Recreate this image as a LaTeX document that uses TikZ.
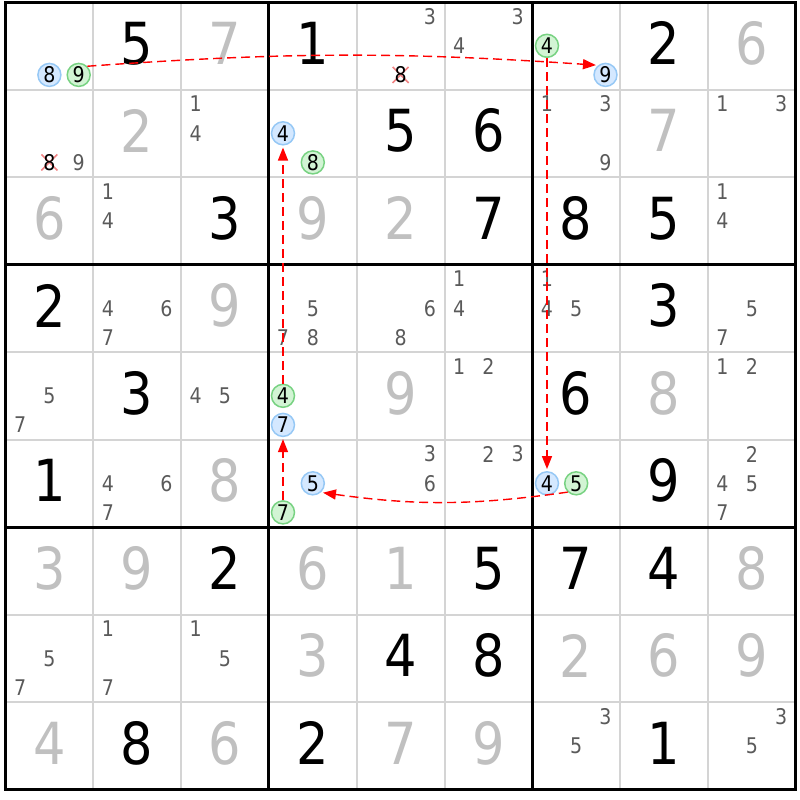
\documentclass[tikz,border=0pt]{standalone}
\usepackage{fontspec}
\setmainfont{DejaVu Sans}[FakeStretch=0.88]
\usepackage{tikz}
\usetikzlibrary{arrows.meta}
\definecolor{solvedgray}{RGB}{192,192,192}
\definecolor{candgray}{RGB}{90,90,90}
\definecolor{thingrid}{RGB}{212,212,212}
\definecolor{bluefill}{RGB}{212,232,255}
\definecolor{bluering}{RGB}{150,200,245}
\definecolor{greenfill}{RGB}{210,244,212}
\definecolor{greenring}{RGB}{120,210,130}
\definecolor{crosspink}{RGB}{240,130,130}

\begin{document}
\begin{tikzpicture}[x=0.5pt,y=0.5pt]
                    \tikzstyle{every node}+=[inner sep=0pt]
                    \tikzstyle{given}=[font=\fontsize{29}{29}\selectfont, text=black]
                    \tikzstyle{solved}=[font=\fontsize{29}{29}\selectfont, text=solvedgray]
                    \tikzstyle{cand}=[font=\fontsize{10.8}{11}\selectfont, text=candgray]
                    \tikzstyle{bluecand}=[cand, text=black, circle, draw=bluering, fill=bluefill, line width=0.75pt, minimum size=11.5pt]
                    \tikzstyle{greencand}=[cand, text=black, circle, draw=greenring, fill=greenfill, line width=0.75pt, minimum size=11.5pt]
                    \tikzstyle{linkarrow}=[red, line width=0.7pt, dash pattern=on 4.5pt off 2.5pt, -{Triangle[length=6.5pt,width=5pt]}, shorten >=1pt]
                    \useasboundingbox (0,0) rectangle (800,-800);
                    % thin lines
                    \draw [thingrid, line width=1pt] (93.3,-2) -- (93.3,-789.5);
                    \draw [thingrid, line width=1pt] (181.1,-2) -- (181.1,-789.5);
                    \draw [thingrid, line width=1pt] (356.7,-2) -- (356.7,-789.5);
                    \draw [thingrid, line width=1pt] (444.5,-2) -- (444.5,-789.5);
                    \draw [thingrid, line width=1pt] (620.1,-2) -- (620.1,-789.5);
                    \draw [thingrid, line width=1pt] (707.9,-2) -- (707.9,-789.5);
                    \draw [thingrid, line width=1pt] (5.5,-89.5) -- (795.7,-89.5);
                    \draw [thingrid, line width=1pt] (5.5,-177) -- (795.7,-177);
                    \draw [thingrid, line width=1pt] (5.5,-352) -- (795.7,-352);
                    \draw [thingrid, line width=1pt] (5.5,-439.5) -- (795.7,-439.5);
                    \draw [thingrid, line width=1pt] (5.5,-614.5) -- (795.7,-614.5);
                    \draw [thingrid, line width=1pt] (5.5,-702) -- (795.7,-702);
                    % box lines
                    \draw [black, line width=1.5pt] (268.9,-2) -- (268.9,-789.5);
                    \draw [black, line width=1.5pt] (532.3,-2) -- (532.3,-789.5);
                    \draw [black, line width=1.5pt] (5.5,-264.5) -- (795.7,-264.5);
                    \draw [black, line width=1.5pt] (5.5,-527) -- (795.7,-527);
                    \draw [black, line width=1.5pt] (5.5,-2) rectangle (795.7,-789.5);
                    % values
                    \node [given] (v12) at (137.2,-43.3) {5};
                    \node [solved] (v13) at (225.0,-43.3) {7};
                    \node [given] (v14) at (312.8,-43.3) {1};
                    \node [given] (v18) at (664.0,-43.3) {2};
                    \node [solved] (v19) at (751.8,-43.3) {6};
                    \node [solved] (v22) at (137.2,-130.8) {2};
                    \node [given] (v25) at (400.6,-130.8) {5};
                    \node [given] (v26) at (488.4,-130.8) {6};
                    \node [solved] (v28) at (664.0,-130.8) {7};
                    \node [solved] (v31) at (49.4,-218.3) {6};
                    \node [given] (v33) at (225.0,-218.3) {3};
                    \node [solved] (v34) at (312.8,-218.3) {9};
                    \node [solved] (v35) at (400.6,-218.3) {2};
                    \node [given] (v36) at (488.4,-218.3) {7};
                    \node [given] (v37) at (576.2,-218.3) {8};
                    \node [given] (v38) at (664.0,-218.3) {5};
                    \node [given] (v41) at (49.4,-305.8) {2};
                    \node [solved] (v43) at (225.0,-305.8) {9};
                    \node [given] (v48) at (664.0,-305.8) {3};
                    \node [given] (v52) at (137.2,-393.3) {3};
                    \node [solved] (v55) at (400.6,-393.3) {9};
                    \node [given] (v57) at (576.2,-393.3) {6};
                    \node [solved] (v58) at (664.0,-393.3) {8};
                    \node [given] (v61) at (49.4,-480.8) {1};
                    \node [solved] (v63) at (225.0,-480.8) {8};
                    \node [given] (v68) at (664.0,-480.8) {9};
                    \node [solved] (v71) at (49.4,-568.3) {3};
                    \node [solved] (v72) at (137.2,-568.3) {9};
                    \node [given] (v73) at (225.0,-568.3) {2};
                    \node [solved] (v74) at (312.8,-568.3) {6};
                    \node [solved] (v75) at (400.6,-568.3) {1};
                    \node [given] (v76) at (488.4,-568.3) {5};
                    \node [given] (v77) at (576.2,-568.3) {7};
                    \node [given] (v78) at (664.0,-568.3) {4};
                    \node [solved] (v79) at (751.8,-568.3) {8};
                    \node [solved] (v84) at (312.8,-655.8) {3};
                    \node [given] (v85) at (400.6,-655.8) {4};
                    \node [given] (v86) at (488.4,-655.8) {8};
                    \node [solved] (v87) at (576.2,-655.8) {2};
                    \node [solved] (v88) at (664.0,-655.8) {6};
                    \node [solved] (v89) at (751.8,-655.8) {9};
                    \node [solved] (v91) at (49.4,-743.3) {4};
                    \node [given] (v92) at (137.2,-743.3) {8};
                    \node [solved] (v93) at (225.0,-743.3) {6};
                    \node [given] (v94) at (312.8,-743.3) {2};
                    \node [solved] (v95) at (400.6,-743.3) {7};
                    \node [solved] (v96) at (488.4,-743.3) {9};
                    \node [given] (v98) at (664.0,-743.3) {1};
                    % candidates
                    \node [bluecand] (k118) at (49.4,-74.9) {8};
                    \node [greencand] (k119) at (78.7,-74.9) {9};
                    \node [cand] (k153) at (429.9,-16.6) {3};
                    \draw [crosspink, line width=0.8pt] (392.6,-66.9) -- (408.6,-82.9);
                    \draw [crosspink, line width=0.8pt] (392.6,-82.9) -- (408.6,-66.9);
                    \node [cand, text=black] (k158) at (400.6,-74.9) {8};
                    \node [cand] (k163) at (517.7,-16.6) {3};
                    \node [cand] (k164) at (459.1,-45.8) {4};
                    \node [greencand] (k174) at (547.0,-45.8) {4};
                    \node [bluecand] (k179) at (605.5,-74.9) {9};
                    \draw [crosspink, line width=0.8pt] (41.4,-154.4) -- (57.4,-170.4);
                    \draw [crosspink, line width=0.8pt] (41.4,-170.4) -- (57.4,-154.4);
                    \node [cand, text=black] (k218) at (49.4,-162.4) {8};
                    \node [cand] (k219) at (78.7,-162.4) {9};
                    \node [cand] (k231) at (195.7,-104.1) {1};
                    \node [cand] (k234) at (195.7,-133.3) {4};
                    \node [bluecand] (k244) at (283.0,-133.3) {4};
                    \node [greencand] (k248) at (312.8,-162.4) {8};
                    \node [cand] (k271) at (546.9,-104.1) {1};
                    \node [cand] (k273) at (605.5,-104.1) {3};
                    \node [cand] (k279) at (605.5,-162.4) {9};
                    \node [cand] (k291) at (722.5,-104.1) {1};
                    \node [cand] (k293) at (781.1,-104.1) {3};
                    \node [cand] (k321) at (107.9,-191.6) {1};
                    \node [cand] (k324) at (107.9,-220.8) {4};
                    \node [cand] (k391) at (722.5,-191.6) {1};
                    \node [cand] (k394) at (722.5,-220.8) {4};
                    \node [cand] (k424) at (107.9,-308.3) {4};
                    \node [cand] (k426) at (166.5,-308.3) {6};
                    \node [cand] (k427) at (107.9,-337.4) {7};
                    \node [cand] (k445) at (312.8,-308.3) {5};
                    \node [cand] (k447) at (283.0,-337.4) {7};
                    \node [cand] (k448) at (312.8,-337.4) {8};
                    \node [cand] (k456) at (429.9,-308.3) {6};
                    \node [cand] (k458) at (400.6,-337.4) {8};
                    \node [cand] (k461) at (459.1,-279.1) {1};
                    \node [cand] (k464) at (459.1,-308.3) {4};
                    \node [cand] (k471) at (546.9,-279.1) {1};
                    \node [cand] (k474) at (546.9,-308.3) {4};
                    \node [cand] (k475) at (576.2,-308.3) {5};
                    \node [cand] (k495) at (751.8,-308.3) {5};
                    \node [cand] (k497) at (722.5,-337.4) {7};
                    \node [cand] (k515) at (49.4,-395.8) {5};
                    \node [cand] (k517) at (20.1,-424.9) {7};
                    \node [cand] (k534) at (195.7,-395.8) {4};
                    \node [cand] (k535) at (225.0,-395.8) {5};
                    \node [greencand] (k544) at (283.0,-395.8) {4};
                    \node [bluecand] (k547) at (283.0,-424.9) {7};
                    \node [cand] (k561) at (459.1,-366.6) {1};
                    \node [cand] (k562) at (488.4,-366.6) {2};
                    \node [cand] (k591) at (722.5,-366.6) {1};
                    \node [cand] (k592) at (751.8,-366.6) {2};
                    \node [cand] (k624) at (107.9,-483.3) {4};
                    \node [cand] (k626) at (166.5,-483.3) {6};
                    \node [cand] (k627) at (107.9,-512.4) {7};
                    \node [bluecand] (k645) at (312.8,-483.3) {5};
                    \node [greencand] (k647) at (283.0,-512.4) {7};
                    \node [cand] (k653) at (429.9,-454.1) {3};
                    \node [cand] (k656) at (429.9,-483.3) {6};
                    \node [cand] (k662) at (488.4,-454.1) {2};
                    \node [cand] (k663) at (517.7,-454.1) {3};
                    \node [bluecand] (k674) at (547.0,-483.3) {4};
                    \node [greencand] (k675) at (576.2,-483.3) {5};
                    \node [cand] (k692) at (751.8,-454.1) {2};
                    \node [cand] (k694) at (722.5,-483.3) {4};
                    \node [cand] (k695) at (751.8,-483.3) {5};
                    \node [cand] (k697) at (722.5,-512.4) {7};
                    \node [cand] (k815) at (49.4,-658.3) {5};
                    \node [cand] (k817) at (20.1,-687.4) {7};
                    \node [cand] (k821) at (107.9,-629.1) {1};
                    \node [cand] (k827) at (107.9,-687.4) {7};
                    \node [cand] (k831) at (195.7,-629.1) {1};
                    \node [cand] (k835) at (225.0,-658.3) {5};
                    \node [cand] (k973) at (605.5,-716.6) {3};
                    \node [cand] (k975) at (576.2,-745.8) {5};
                    \node [cand] (k993) at (781.1,-716.6) {3};
                    \node [cand] (k995) at (751.8,-745.8) {5};
                    % links
                    \draw [linkarrow] (k119.45) to [bend left=4] (k179.128);
                    \draw [linkarrow] (k174) -- (k674);
                    \draw [linkarrow] (k675.226) to [bend left=8] (k645.312);
                    \draw [linkarrow] (k647) -- (k547);
                    \draw [linkarrow] (k544) -- (k244);
                \end{tikzpicture}
\end{document}
